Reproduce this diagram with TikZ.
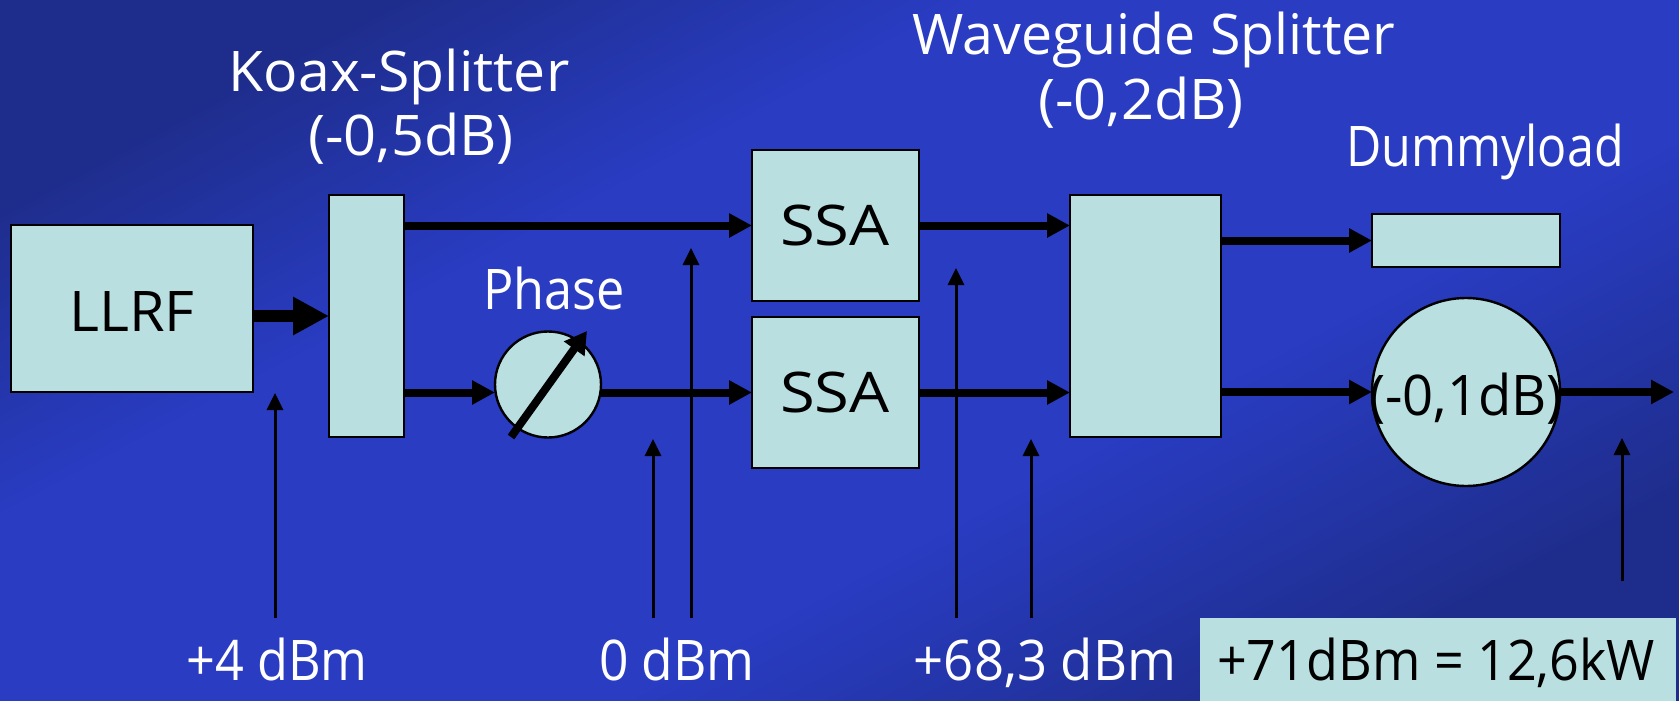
\documentclass[tikz,border=0pt]{standalone}
\usepackage{fontspec}
\setmainfont{Open Sans}
\usetikzlibrary{arrows.meta,calc}
\definecolor{bgmid}{HTML}{293CC2}
\definecolor{bgdark}{HTML}{1E2D8C}
\definecolor{pale}{HTML}{B9DFE1}
\pgfdeclarehorizontalshading{bgdiag}{100bp}{color(0bp)=(bgdark);color(25bp)=(bgdark);color(38bp)=(bgmid);color(60bp)=(bgmid);color(75bp)=(bgdark);color(100bp)=(bgdark)}
\newcommand{\hs}[2]{\scalebox{#1}[1]{#2}}
\tikzset{
  x=1pt,y=-1pt,
  block/.style={draw=black,line width=2.4pt,fill=pale,inner sep=0pt,outer sep=0pt},
  circ/.style={block,circle},
  lbl/.style={text=white,inner sep=0pt,anchor=base,font=\fontsize{56}{60}\selectfont},
  dark/.style={lbl,text=black},
  arr/.style={-{Triangle[length=23pt,width=23pt]},line width=8pt,black},
  bigarr/.style={-{Triangle[length=36pt,width=36pt]},line width=12pt,black},
  thin/.style={-{Triangle[length=17pt,width=16pt]},line width=3pt,black},
}
\begin{document}
\begin{tikzpicture}
\useasboundingbox (0,0) rectangle (1679,701);
\shade[shading=bgdiag,shading angle=-62] (0,0) rectangle (1679,701);
% blocks
\node[block,minimum width=242pt,minimum height=167pt] (llrf) at (132,308.5) {};
\node[block,minimum width=75pt,minimum height=242pt] (ksplit) at (366.5,316) {};
\node[block,minimum width=167pt,minimum height=151pt] (ssaa) at (835.5,225.5) {};
\node[block,minimum width=167pt,minimum height=151pt] (ssab) at (835.5,392.5) {};
\node[block,minimum width=151pt,minimum height=242pt] (wsplit) at (1145.5,316) {};
\node[block,minimum width=188pt,minimum height=53pt] (dummy) at (1466,240.5) {};
\node[circ,minimum size=106pt] (phase) at (548,384.5) {};
\node[circ,minimum size=188pt] (att) at (1466,392) {};
% connectors
\draw[bigarr] (llrf.east |- ksplit.west) -- (ksplit.west);
\draw[arr] (ksplit.east |- ssaa.west) -- (ssaa.west);
\draw[arr] (ksplit.east |- ssab.west) -- (phase.west |- ssab.west);
\draw[arr] (phase.east |- ssab.west) -- (ssab.west);
\draw[arr] (ssaa.east) -- (wsplit.west |- ssaa.east);
\draw[arr] (ssab.east) -- (wsplit.west |- ssab.east);
\draw[arr] (wsplit.east |- dummy.west) -- (dummy.west);
\draw[arr] (wsplit.east |- att.west) -- (att.west);
\coordinate (outend) at (1674,392);
\draw[arr] (att.east) -- (outend);
\coordinate (ka) at (511,437);
\coordinate (kb) at (587,331);
\draw[arr,-{Triangle[length=22pt,width=24pt]}] (ka) -- (kb);
% measurement arrows
\coordinate (ma0) at (275,618); \coordinate (ma1) at (275,393);
\coordinate (mb0) at (653,618); \coordinate (mb1) at (653,439);
\coordinate (mc0) at (691,618); \coordinate (mc1) at (691,248);
\coordinate (md0) at (956,618); \coordinate (md1) at (956,268);
\coordinate (me0) at (1031,618); \coordinate (me1) at (1031,439);
\coordinate (mf0) at (1622,581); \coordinate (mf1) at (1622,438);
\foreach \m in {a,b,c,d,e,f} \draw[thin] (m\m0) -- (m\m1);
% labels
\node[dark] (t1) at (132,331) {\hs{1.03}{LLRF}};
\node[dark] (t2) at (835,245) {\hs{1.13}{SSA}};
\node[dark] (t3) at (835,412) {\hs{1.13}{SSA}};
\node[lbl] (l1) at (399,92) {\hs{1.02}{Koax-Splitter}};
\node[lbl] (l2) at (411,155) {\hs{1.03}{(-0,5dB)}};
\node[lbl] (l3) at (1154,55) {\hs{0.99}{Waveguide Splitter}};
\node[lbl] (l4) at (1141,119) {\hs{1.03}{(-0,2dB)}};
\node[lbl] (l5) at (1485,166) {\hs{0.865}{Dummyload}};
\node[lbl] (l6) at (554,309) {\hs{0.9}{Phase}};
\node[dark] (l7) at (1466,415) {\hs{0.97}{(-0,1dB)}};
\node[lbl] (l8) at (277,680) {\hs{0.9}{+4 dBm}};
\node[lbl] (l9) at (677,680) {\hs{0.92}{0 dBm}};
\node[lbl] (l10) at (1045,680) {\hs{0.94}{+68,3 dBm}};
\node[fill=pale,inner sep=0pt,minimum width=476pt,minimum height=83pt] (res) at (1438,659.5) {};
\node[dark] (t4) at (1436,680) {\hs{0.93}{+71dBm = 12,6kW}};
\end{tikzpicture}
\end{document}
